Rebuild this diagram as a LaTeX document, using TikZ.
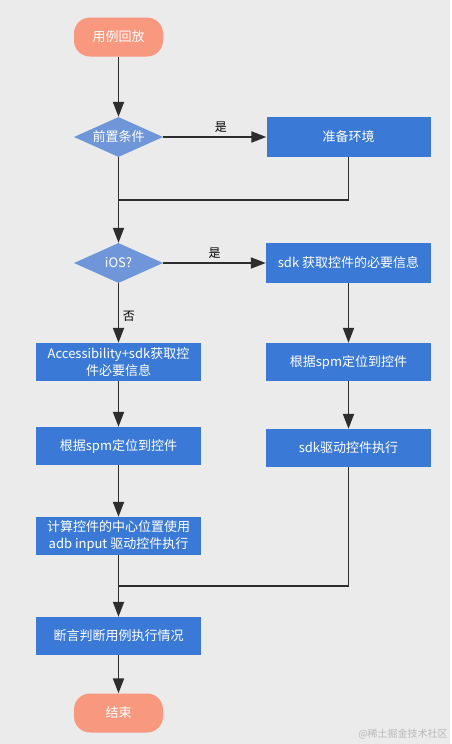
\documentclass[tikz,border=0pt]{standalone}
\usepackage{fontspec}
\setmainfont{Noto Sans CJK SC}
\usetikzlibrary{calc, shapes.geometric, arrows.meta}
\definecolor{bgcol}{RGB}{235,235,235}
\definecolor{boxblue}{RGB}{58,122,214}
\definecolor{diablue}{RGB}{112,150,218}
\definecolor{termorange}{RGB}{247,152,127}
\definecolor{linecol}{RGB}{45,45,45}

\begin{document}
\begin{tikzpicture}[x=1pt, y=1pt, node distance=100pt, font=\fontsize{13}{16.5}\selectfont,
    >={Triangle[length=15pt, width=11pt]},
    proc/.style={shape=rectangle, fill=boxblue, text=white, minimum width=165pt, minimum height=38pt, align=center, inner sep=2pt},
    decide/.style={shape=diamond, fill=diablue, text=white, minimum width=89pt, minimum height=40pt, aspect=2.2, inner sep=0pt},
    term/.style={shape=rectangle, rounded corners=16pt, fill=termorange, text=white, minimum width=89pt, minimum height=39pt},
    wire/.style={line width=1.9pt, draw=linecol},
    flow/.style={wire, ->},
    tag/.style={text=black, font=\fontsize{12}{14}\selectfont}]
    \fill[bgcol] (0, 0) rectangle (450, -744);
    \node[term] at (118.5, -37) (start) {用例回放};
    \node[decide, below of=start] (pre) {前置条件};
    \node[proc, right of=pre, node distance=230pt, minimum width=164pt, minimum height=40pt] (prep) {准备环境};
    \node[decide, below of=pre, node distance=126pt] (ios) {iOS?};
    \node[proc, right of=ios, node distance=230pt, minimum height=40pt] (sdkinfo) {sdk 获取控件的必要信息};
    \node[proc, below of=ios, node distance=99pt] (access) {Accessibility+sdk获取控\\件必要信息};
    \node[proc, below of=access, node distance=84pt] (spmL) {根据spm定位到控件};
    \node[proc, below of=spmL, node distance=90pt] (calcpos) {计算控件的中心位置使用\\adb input 驱动控件执行};
    \node[proc, below of=calcpos, node distance=100pt] (assert) {断言判断用例执行情况};
    \node[term, below of=assert, node distance=77pt] (stop) {结束};
    \node[proc, below of=sdkinfo, node distance=99pt] (spmR) {根据spm定位到控件};
    \node[proc, below of=spmR, node distance=86pt] (drive) {sdk驱动控件执行};
    \node[text=gray!55, font=\fontsize{10}{11}\selectfont] at (403, -734) (watermark) {@稀土掘金技术社区};
    \coordinate (join1) at ($(pre)!0.5!(ios)$);
    \coordinate (join2) at ($(calcpos)!0.5!(assert)$);
    \draw[flow] (start) -- (pre);
    \draw[flow] (pre) -- node[tag, midway, above, xshift=6pt] {是} (prep);
    \draw[wire] (prep) |- (join1);
    \draw[flow] (pre) -- (ios);
    \draw[flow] (ios) -- node[tag, midway, above] {是} (sdkinfo);
    \draw[flow] (ios) -- node[tag, pos=0.55, right] {否} (access);
    \draw[flow] (access) -- (spmL);
    \draw[flow] (spmL) -- (calcpos);
    \draw[flow] (sdkinfo) -- (spmR);
    \draw[flow] (spmR) -- (drive);
    \draw[wire] (drive) |- (join2);
    \draw[flow] (calcpos) -- (assert);
    \draw[flow] (assert) -- (stop);
\end{tikzpicture}
\end{document}
